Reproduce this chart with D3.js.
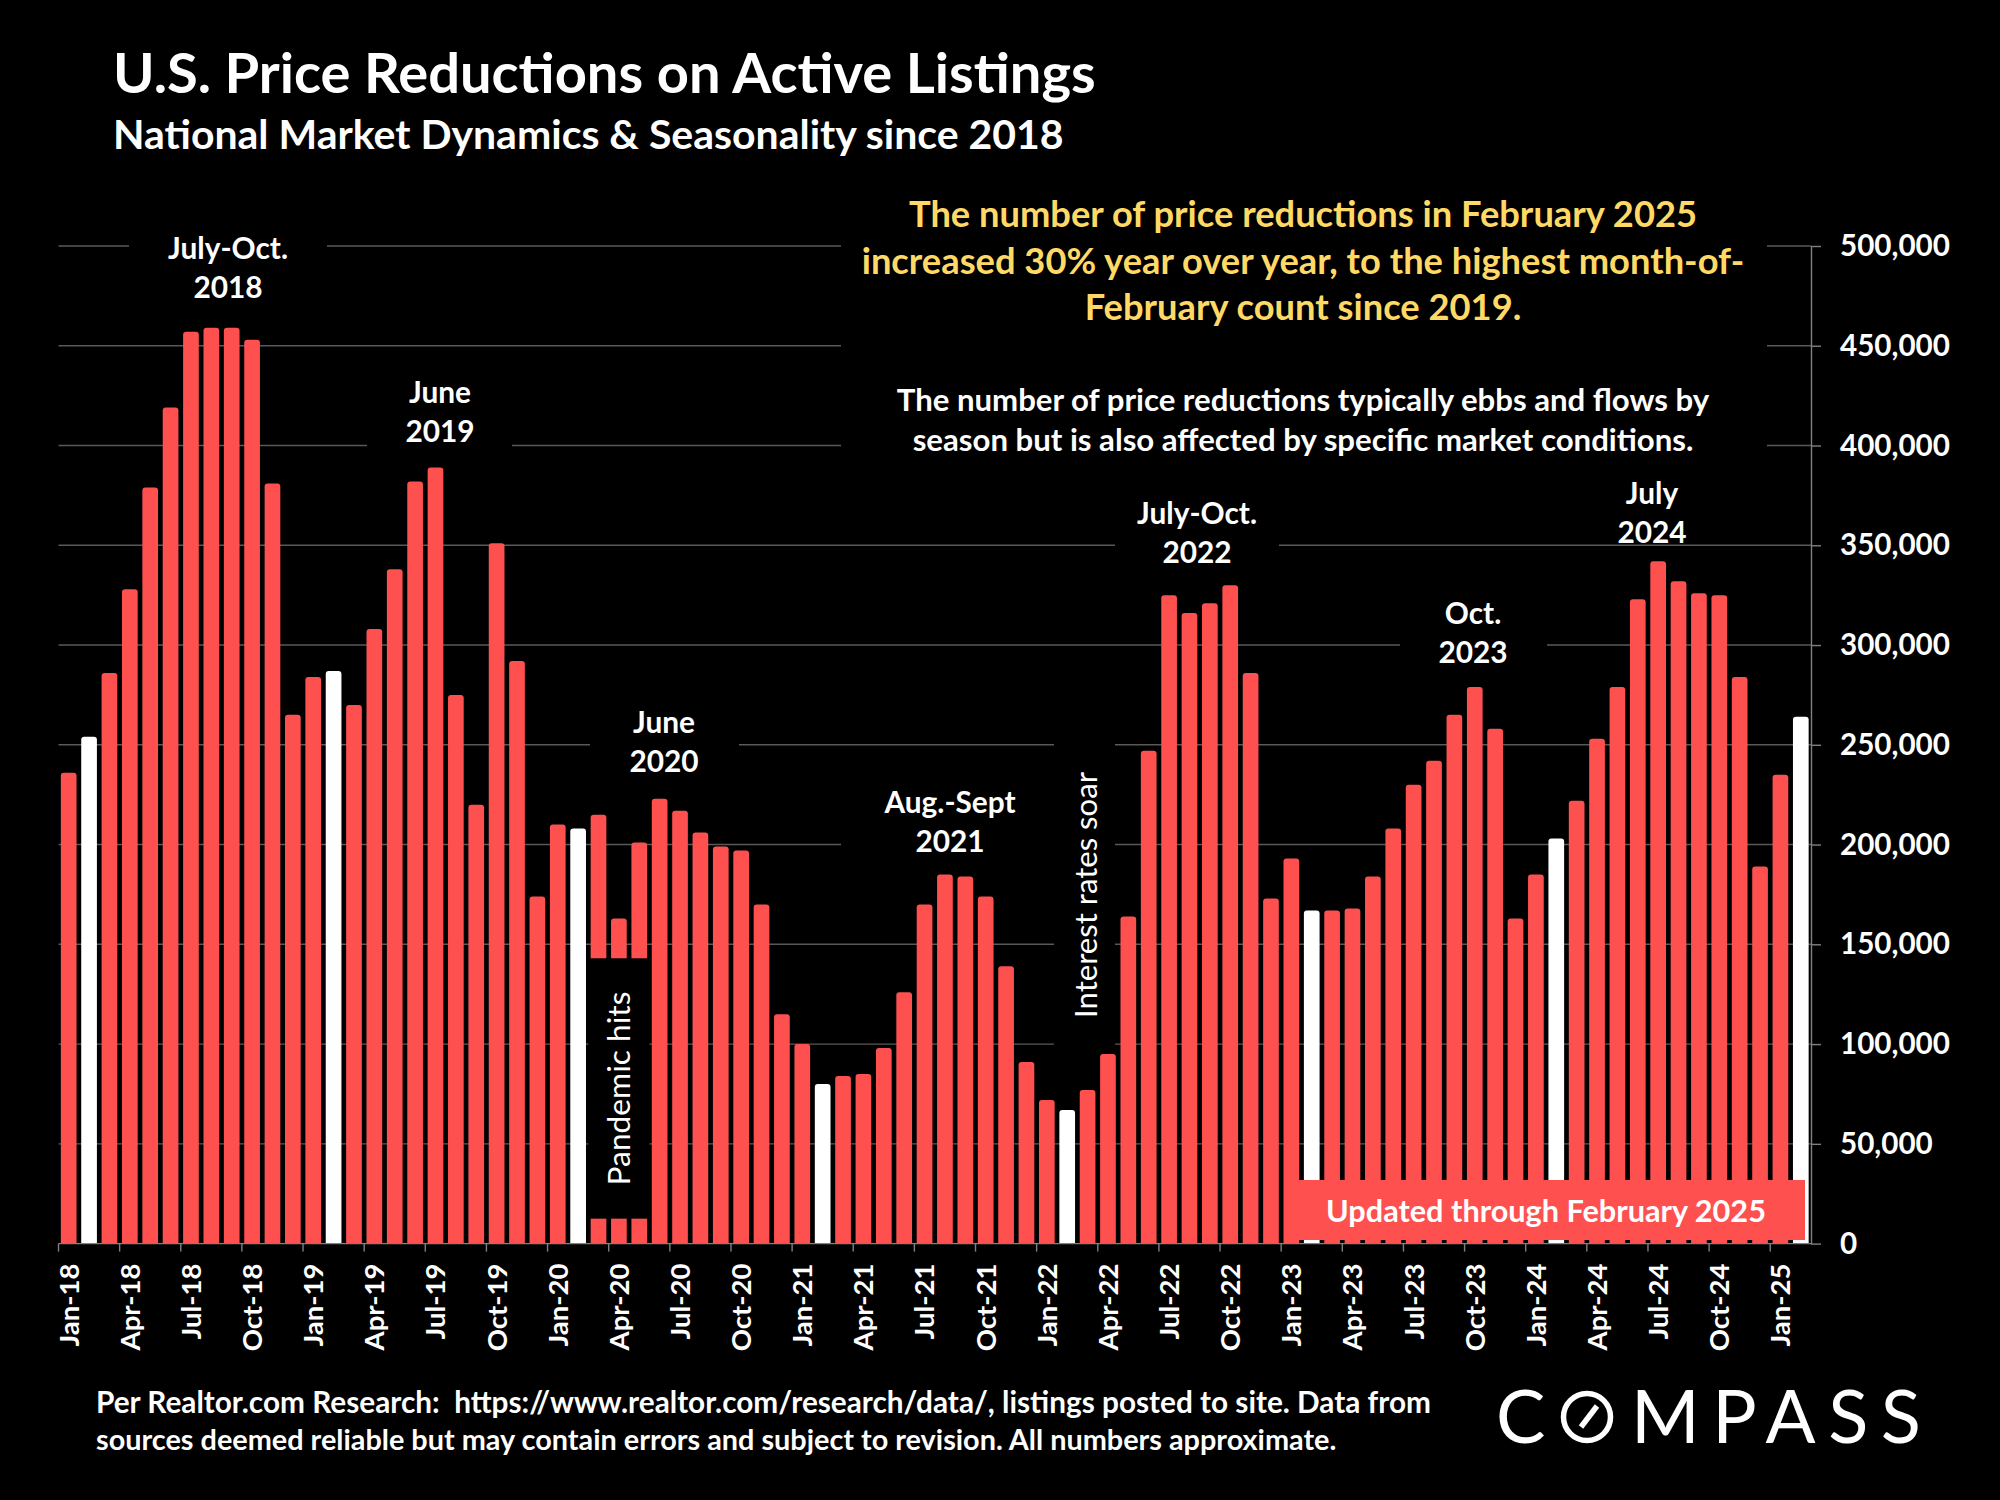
<!DOCTYPE html>
<html lang="en">
<head>
<meta charset="utf-8"/>
<title>U.S. Price Reductions on Active Listings</title>
<style>
  body { margin: 0; background: #000; }
  svg { display: block; font-family: Lato, "Open Sans", sans-serif; }
</style>
</head>
<body>
<div id="chart"></div>
<script src="https://d3js.org/d3.v7.min.js"></script>
<script>
  // monthly price reductions on active listings (approximate)
  const y2018 = [236000, 254000, 286000, 328000, 379000, 419000, 457000, 459000, 459000, 453000, 381000, 265000];
  const y2019 = [284000, 287000, 270000, 308000, 338000, 382000, 389000, 275000, 220000, 351000, 292000, 174000];
  const y2020 = [210000, 208000, 215000, 163000, 201000, 223000, 217000, 206000, 199000, 197000, 170000, 115000];
  const y2021 = [100000, 80000, 84000, 85000, 98000, 126000, 170000, 185000, 184000, 174000, 139000, 91000];
  const y2022 = [72000, 67000, 77000, 95000, 164000, 247000, 325000, 316000, 321000, 330000, 286000, 173000];
  const y2023 = [193000, 167000, 167000, 168000, 184000, 208000, 230000, 242000, 265000, 279000, 258000, 163000];
  const y2024 = [185000, 203000, 222000, 253000, 279000, 323000, 342000, 332000, 326000, 325000, 284000, 189000];
  const y2025 = [235000, 264000];
  const reductions = [].concat(y2018, y2019, y2020, y2021, y2022, y2023, y2024, y2025);

  const fmtMonth = d3.timeFormat("%b-%y");
  const months = d3.timeMonths(new Date(2018, 0, 1), new Date(2025, 2, 1)).map(fmtMonth);
  const monthTicks = months.filter((m, i) => i % 3 === 0);
  const yTicks = [0, 50000, 100000, 150000, 200000, 250000, 300000, 350000, 400000, 450000, 500000];

  const peakNotes = [
    ["July-Oct.", "2018"],
    ["June", "2019"],
    ["June", "2020"],
    ["Aug.-Sept", "2021"],
    ["July-Oct.", "2022"],
    ["Oct.", "2023"],
    ["July", "2024"]
  ];
  const title = "U.S. Price Reductions on Active Listings";
  const subtitle = "National Market Dynamics & Seasonality since 2018";
  const headline = [
    "The number of price reductions in February 2025",
    "increased 30% year over year, to the highest month-of-",
    "February count since 2019."
  ];
  const comment = [
    "The number of price reductions typically ebbs and flows by",
    "season but is also affected by specific market conditions."
  ];
  const footer = [
    "Per Realtor.com Research:  https://www.realtor.com/research/data/, listings posted to site. Data from",
    "sources deemed reliable but may contain errors and subject to revision. All numbers approximate."
  ];

  const W = 2000, H = 1500;
  const RED = "#ff5050", GOLD = "#ffd966", GRID = "#595959", AXIS = "#808080";

  function fitWidth(sel, target) {
    const w = sel.node().getComputedTextLength();
    const fs = parseFloat(sel.attr("font-size")) * target / w;
    sel.attr("font-size", fs);
    return fs;
  }

  function draw() {
    const svg = d3.select("#chart").append("svg")
        .attr("width", W).attr("height", H)
        .attr("viewBox", [0, 0, W, H]);
    svg.append("rect").attr("width", W).attr("height", H).attr("fill", "#000");

    const data = months.map((m, i) => ({ month: m, value: reductions[i], feb: i % 12 === 1 }));

    const x = d3.scaleBand().domain(months).range([58.5, 1811]).paddingInner(0.23).paddingOuter(0.115);
    const y = d3.scaleLinear().domain([0, 500000]).range([1243.6, 246]);
    const gap = (x.step() - x.bandwidth()) / 2;

    // gridlines
    svg.append("g")
      .selectAll("line")
      .data(yTicks.filter(v => v > 0))
      .join("line")
        .attr("x1", 58.5).attr("x2", 1811)
        .attr("y1", d => y(d)).attr("y2", d => y(d))
        .attr("stroke", GRID).attr("stroke-width", 1.4);

    // black boxes behind the notes hide the gridlines
    const noteBoxes = [
      [129, 222, 327, 318], [367, 368, 512, 455], [590, 697, 739, 785],
      [841, 768, 1058, 868], [1054, 735, 1115, 1052], [1115, 478, 1279, 572],
      [1400, 583, 1547, 674], [841, 190, 1767, 462]
    ];
    svg.append("g")
      .selectAll("rect")
      .data(noteBoxes)
      .join("rect")
        .attr("x", d => d[0]).attr("y", d => d[1])
        .attr("width", d => d[2] - d[0]).attr("height", d => d[3] - d[1])
        .attr("fill", "#000");

    // bars with rounded tops
    const r = 3;
    svg.append("g")
      .selectAll("path")
      .data(data)
      .join("path")
        .attr("fill", d => d.feb ? "#fff" : RED)
        .attr("d", d => {
          const x0 = x(d.month), w = x.bandwidth(), t = y(d.value), b = y(0);
          return `M${x0},${b}V${t + r}Q${x0},${t} ${x0 + r},${t}H${x0 + w - r}Q${x0 + w},${t} ${x0 + w},${t + r}V${b}Z`;
        });

    // baseline and month ticks
    svg.append("line")
      .attr("x1", 58.5).attr("x2", 1811).attr("y1", y(0)).attr("y2", y(0))
      .attr("stroke", AXIS).attr("stroke-width", 1.4);
    svg.append("g")
      .selectAll("line")
      .data(monthTicks)
      .join("line")
        .attr("x1", d => x(d) - gap).attr("x2", d => x(d) - gap)
        .attr("y1", y(0)).attr("y2", y(0) + 8)
        .attr("stroke", AXIS).attr("stroke-width", 1.4);

    const gx = svg.append("g")
        .attr("transform", `translate(0,${y(0)})`)
        .call(d3.axisBottom(x).tickValues(monthTicks).tickSize(0));
    gx.select(".domain").remove();
    gx.selectAll("text")
        .attr("fill", "#fff").attr("font-family", "Lato").attr("font-weight", 700).attr("font-size", 28)
        .attr("text-anchor", "end")
        .attr("transform", "rotate(-90)")
        .attr("x", -20).attr("y", 0).attr("dy", "0.36em");
    const xfs = fitWidth(gx.select("text"), 83);
    gx.selectAll("text").attr("font-size", xfs);

    // right value axis
    const gy = svg.append("g")
        .attr("transform", "translate(1811,0)")
        .call(d3.axisRight(y).tickValues(yTicks).tickFormat(d3.format(",")).tickSize(10).tickSizeOuter(0).tickPadding(19));
    gy.select(".domain").attr("stroke", AXIS).attr("stroke-width", 1.4);
    gy.selectAll(".tick line").attr("stroke", AXIS).attr("stroke-width", 1.4);
    gy.selectAll("text")
        .attr("fill", "#fff").attr("font-family", "Lato").attr("font-weight", 700).attr("font-size", 30);
    const yfs = fitWidth(gy.selectAll("text").filter(d => d === 500000), 110);
    gy.selectAll("text").attr("font-size", yfs);

    // pandemic box cuts through Mar-May 2020
    const pm = ["Mar-20", "May-20"];
    const px0 = x(pm[0]) - gap, px1 = x(pm[1]) + x.bandwidth() + gap;
    svg.append("rect")
      .attr("x", px0).attr("y", y(143000))
      .attr("width", px1 - px0).attr("height", y(12500) - y(143000))
      .attr("fill", "#000");
    const pan = svg.append("text")
      .attr("transform", `translate(${(px0 + px1) / 2},${(y(143000) + y(12500)) / 2}) rotate(-90)`)
      .attr("text-anchor", "middle").attr("dy", "0.35em")
      .attr("fill", "#fff").attr("font-size", 30).attr("font-weight", 400)
      .text("Pandemic hits");
    fitWidth(pan, 194);

    const rates = svg.append("text")
      .attr("transform", "translate(1086,895) rotate(-90)")
      .attr("text-anchor", "middle").attr("dy", "0.35em")
      .attr("fill", "#fff").attr("font-size", 30).attr("font-weight", 400)
      .text("Interest rates soar");
    fitWidth(rates, 246);

    // peak notes: size taken from one line measured on its own
    const probe = svg.append("text").attr("font-weight", 700).attr("font-size", 30).text(peakNotes[0][0]);
    const nfs = fitWidth(probe, 120);
    probe.remove();

    const notePlace = [[228, 259], [440, 403], [664, 733], [950, 813], [1197, 524], [1473, 624], [1652, 504]];
    const ng = svg.append("g").attr("fill", "#fff").attr("font-weight", 700)
        .attr("text-anchor", "middle").attr("font-size", nfs);
    ng.selectAll("text")
      .data(peakNotes.flatMap((lines, i) => lines.map((t, j) => ({ t, i, j }))))
      .join("text")
        .attr("x", d => notePlace[d.i][0])
        .attr("y", d => notePlace[d.i][1] + d.j * 39)
        .text(d => d.t);

    // updated-through banner
    svg.append("rect")
      .attr("x", 1292).attr("y", 1180).attr("width", 1805 - 1292).attr("height", 60)
      .attr("fill", RED);
    const upd = svg.append("text")
      .attr("x", 1546).attr("y", 1222).attr("text-anchor", "middle")
      .attr("fill", "#fff").attr("font-weight", 700).attr("font-size", 30)
      .text("Updated through February 2025");
    fitWidth(upd, 440);

    // titles
    const t1 = svg.append("text").attr("x", 113).attr("y", 93)
      .attr("fill", "#fff").attr("font-weight", 700).attr("font-size", 50).text(title);
    fitWidth(t1, 983);
    const t2 = svg.append("text").attr("x", 113).attr("y", 149)
      .attr("fill", "#fff").attr("font-weight", 700).attr("font-size", 36).text(subtitle);
    fitWidth(t2, 951);

    // call-out text
    const hl = svg.append("g").attr("fill", GOLD).attr("font-weight", 700).attr("text-anchor", "middle")
      .selectAll("text").data(headline).join("text")
        .attr("x", 1303).attr("y", (d, i) => 227 + i * 46.5)
        .attr("font-size", 32).text(d => d);
    const hfs = fitWidth(hl.filter((d, i) => i === 1), 883);
    hl.attr("font-size", hfs);

    const cm = svg.append("g").attr("fill", "#fff").attr("font-weight", 700).attr("text-anchor", "middle")
      .selectAll("text").data(comment).join("text")
        .attr("x", 1303).attr("y", (d, i) => 411 + i * 39.5)
        .attr("font-size", 28).text(d => d);
    const cfs = fitWidth(cm.filter((d, i) => i === 0), 813);
    cm.attr("font-size", cfs);

    // source footnote, each line fitted to its width in the source
    const footWidths = [1335, 1241];
    svg.append("g").attr("fill", "#fff").attr("font-weight", 700)
      .selectAll("text").data(footer).join("text")
        .attr("x", 96).attr("y", (d, i) => 1413 + i * 37)
        .attr("font-size", 26).style("white-space", "pre").text(d => d)
        .each(function(d, i) { fitWidth(d3.select(this), footWidths[i]); });

    // compass wordmark
    const logo = svg.append("g").attr("fill", "#fff").attr("font-weight", 400).attr("font-size", 74);
    logo.append("text").attr("x", 1496).attr("y", 1443).text("C");
    logo.append("circle").attr("cx", 1587).attr("cy", 1417).attr("r", 23.5)
      .attr("fill", "none").attr("stroke", "#fff").attr("stroke-width", 5.5);
    logo.append("line").attr("x1", 1597).attr("y1", 1406).attr("x2", 1581).attr("y2", 1427)
      .attr("stroke", "#fff").attr("stroke-width", 5.5);
    logo.append("text").attr("x", 1631).attr("y", 1443)
      .attr("textLength", 290).attr("lengthAdjust", "spacing").text("MPASS");
  }

  document.fonts.ready.then(draw);
</script>
</body>
</html>
